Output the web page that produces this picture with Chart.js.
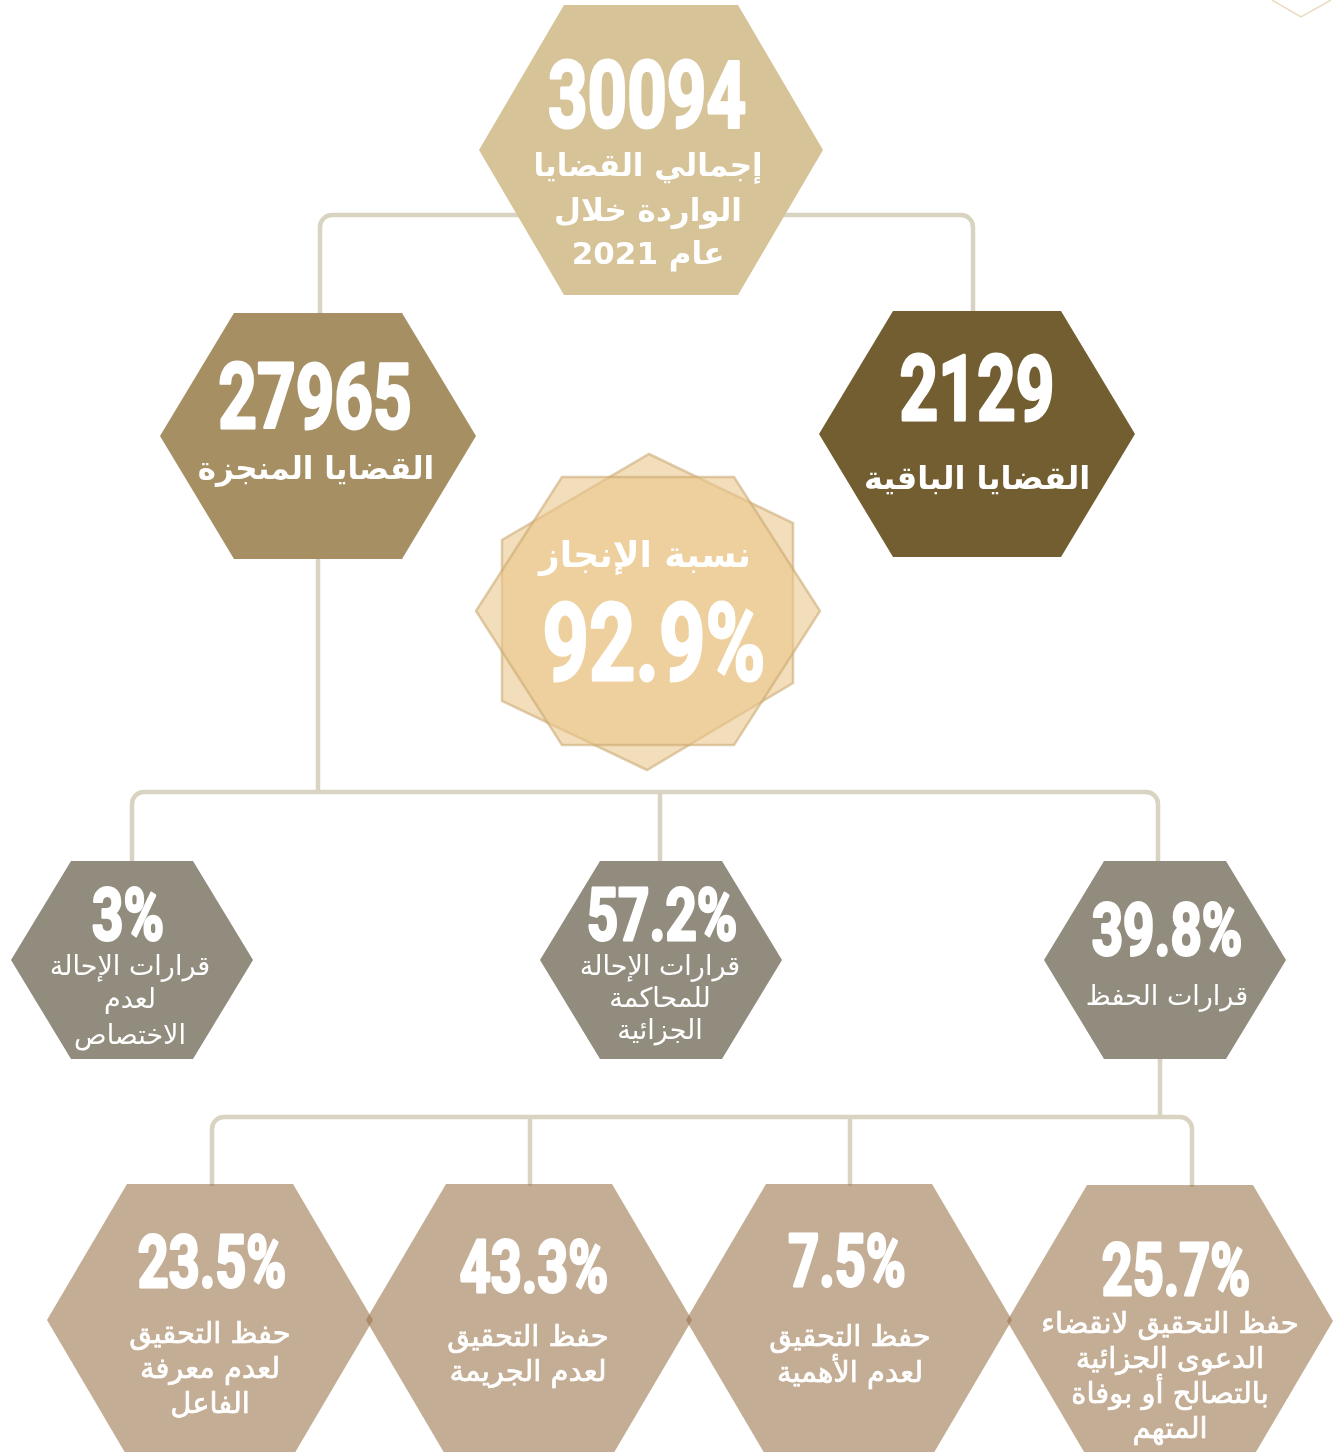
<!DOCTYPE html>
<html><head><meta charset="utf-8">
<script src="https://cdn.jsdelivr.net/npm/chart.js@4.4.1/dist/chart.umd.min.js"></script>
<style>html,body{margin:0;padding:0;background:#fff}canvas{display:block}</style>
</head><body>
<canvas id="c" width="1340" height="1452"></canvas>
<script>
// ---- data ----
const nodeValues = ['30094','27965','2129','92.9%','3%','57.2%','39.8%','23.5%','43.3%','7.5%','25.7%'];
const nodeLabels = [
  ['إجمالي القضايا','الواردة خلال','عام 2021'],
  ['القضايا المنجزة'],
  ['القضايا الباقية'],
  ['نسبة الإنجاز'],
  ['قرارات الإحالة','لعدم','الاختصاص'],
  ['قرارات الإحالة','للمحاكمة','الجزائية'],
  ['قرارات الحفظ'],
  ['حفظ التحقيق','لعدم معرفة','الفاعل'],
  ['حفظ التحقيق','لعدم الجريمة'],
  ['حفظ التحقيق','لعدم الأهمية'],
  ['حفظ التحقيق لانقضاء','الدعوى الجزائية','بالتصالح أو بوفاة','المتهم']
];
const links = [[0,1],[0,2],[1,4],[1,5],[1,6],[6,7],[6,8],[6,9],[6,10]];

// ---- layout (positions in layout units, mapped through the chart scales) ----
const nodeX = [651,318,977,648,132,661,1165,210,529,849,1170];
const nodeY = [150,436,434,612,960,960,960,1320,1320,1320,1321];
const tierOf = [0,1,1,-1,2,2,2,3,3,3,3];
const tierSize = [[172,145,87],[158,123,84],[121,99,61],[163,136,83]]; // half-width, half-height, half top edge
const nodeFill = ['#d7c398','#a58f63','#725e31',null,'#918c7e','#918c7e','#918c7e',
  'rgba(153,114,73,0.58)','rgba(153,114,73,0.58)','rgba(153,114,73,0.58)','rgba(153,114,73,0.58)'];
const anchorX = [651,320,973,648,132,660,1158,212,530,850,1192];
const dropX = {0:651, 1:318, 6:1160};
const busY = {0:215, 1:792, 6:1117};
const numBase = [127,428,420,680,940,940,955,1287,1292,1286,1295];
const numX = [647,315,977,654,128,662,1167,212,534,847,1176];
const numSize = [92,90,90,108,73,73,73,72,72,72,72];
const labelY = [[168,213,256],[471],[481],[558],[968,1001,1037],[968,1000,1032],[998],
  [1335,1370,1405],[1338,1373],[1338,1374],[1325,1360,1395,1430]];
const labelX = [648,316,977,645,130,660,1167,210,528,850,1170];
const labelSize = [31,31,32,36,27,27,27,29,29,29,29];
const labelWeight = ['bold','bold','bold','bold','normal','normal','normal','normal','normal','normal','normal'];
const labelStroke = [0,0,0,0,0,0,0,0.7,0.7,0.7,0.7];

function hexPath(ctx, cx, cy, hw, hh, e){
  ctx.beginPath();
  ctx.moveTo(cx-hw,cy); ctx.lineTo(cx-e,cy-hh); ctx.lineTo(cx+e,cy-hh);
  ctx.lineTo(cx+hw,cy); ctx.lineTo(cx+e,cy+hh); ctx.lineTo(cx-e,cy+hh); ctx.closePath();
}

const infographic = {
  id:'infographic',
  beforeDatasetsDraw(chart){
    const ctx = chart.ctx, xs = chart.scales.x, ys = chart.scales.y;
    const X = v=>xs.getPixelForValue(v), Y = v=>ys.getPixelForValue(v);
    ctx.save();
    // corner decoration
    ctx.strokeStyle='#eadcbf'; ctx.lineWidth=1.5;
    ctx.beginPath(); ctx.moveTo(X(1272),Y(0)); ctx.lineTo(X(1301),Y(17)); ctx.lineTo(X(1331),Y(0)); ctx.stroke();
    // connectors
    ctx.strokeStyle='#d9d3c2'; ctx.lineWidth=4.5; ctx.lineCap='butt';
    const parents = [...new Set(links.map(l=>l[0]))];
    parents.forEach(p=>{
      const kids = links.filter(l=>l[0]===p).map(l=>l[1]);
      const b = busY[p];
      const topOf = k => nodeY[k]-tierSize[tierOf[k]][1];
      kids.sort((a,c)=>anchorX[a]-anchorX[c]);
      const L = kids[0], R = kids[kids.length-1];
      const r = 12;
      ctx.beginPath();
      ctx.moveTo(X(anchorX[L]), Y(topOf(L)+2));
      ctx.arcTo(X(anchorX[L]), Y(b), X(anchorX[L]+40), Y(b), r);
      ctx.arcTo(X(anchorX[R]), Y(b), X(anchorX[R]), Y(topOf(R)), r);
      ctx.lineTo(X(anchorX[R]), Y(topOf(R)+2));
      ctx.stroke();
      kids.slice(1,-1).forEach(k=>{
        ctx.beginPath(); ctx.moveTo(X(anchorX[k]),Y(b)); ctx.lineTo(X(anchorX[k]),Y(topOf(k)+2)); ctx.stroke();
      });
      // parent drop
      ctx.beginPath(); ctx.moveTo(X(dropX[p]),Y(nodeY[p])); ctx.lineTo(X(dropX[p]),Y(b)); ctx.stroke();
    });
    // hexagons
    chart.getDatasetMeta(0).data.forEach((pt,i)=>{
      const cx = pt.x, cy = pt.y;
      if (tierOf[i] < 0){
        ctx.lineWidth = 2.5;
        ctx.strokeStyle='rgba(200,165,110,0.55)';
        ctx.fillStyle='rgba(235,198,138,0.58)';
        // pointy-top hexagon
        ctx.beginPath();
        ctx.moveTo(cx+1,cy-158); ctx.lineTo(cx+145,cy-89); ctx.lineTo(cx+145,cy+71);
        ctx.lineTo(cx-1,cy+158); ctx.lineTo(cx-146,cy+89); ctx.lineTo(cx-146,cy-72); ctx.closePath();
        ctx.fill(); ctx.stroke();
        hexPath(ctx,cx,cy-1,172,134,86);
        ctx.fill(); ctx.stroke();
        return;
      }
      const s = tierSize[tierOf[i]];
      ctx.fillStyle = nodeFill[i];
      hexPath(ctx,cx,cy,s[0],s[1],s[2]);
      ctx.fill();
    });
    ctx.restore();
  },
  afterDatasetsDraw(chart){
    const ctx = chart.ctx, xs = chart.scales.x, ys = chart.scales.y;
    const X = v=>xs.getPixelForValue(v), Y = v=>ys.getPixelForValue(v);
    ctx.save();
    ctx.fillStyle='#ffffff'; ctx.strokeStyle='#ffffff';
    nodeValues.forEach((v,i)=>{
      ctx.save();
      ctx.translate(X(numX[i]), Y(numBase[i]));
      ctx.scale(0.75,1);
      ctx.font = `bold ${numSize[i]}px Roboto`;
      ctx.textAlign='center'; ctx.textBaseline='alphabetic';
      ctx.lineWidth = 3; ctx.lineJoin='round';
      ctx.fillText(v,0,0); ctx.strokeText(v,0,0);
      ctx.restore();
    });
    nodeLabels.forEach((lines,i)=>{
      lines.forEach((t,j)=>{
        ctx.save();
        ctx.font = `${labelWeight[i]} ${labelSize[i]}px "DejaVu Sans"`;
        ctx.direction='rtl'; ctx.textAlign='center'; ctx.textBaseline='middle';
        ctx.fillText(t, X(labelX[i]), Y(labelY[i][j]));
        if (labelStroke[i]) { ctx.lineWidth = labelStroke[i]; ctx.strokeText(t, X(labelX[i]), Y(labelY[i][j])); }
        ctx.restore();
      });
    });
    ctx.restore();
  }
};

new Chart(document.getElementById('c'), {
  type:'scatter',
  data:{ datasets:[{ label:'nodes', data: nodeX.map((x,i)=>({x, y:nodeY[i], v:nodeValues[i]})),
    pointRadius:0, pointHoverRadius:0, showLine:false }]},
  options:{
    responsive:false, animation:false, events:[],
    layout:{padding:0},
    plugins:{legend:{display:false}, tooltip:{enabled:false}},
    scales:{
      x:{type:'linear', min:0, max:1340, display:false},
      y:{type:'linear', min:0, max:1452, reverse:true, display:false}
    }
  },
  plugins:[infographic]
});
</script>
</body></html>
